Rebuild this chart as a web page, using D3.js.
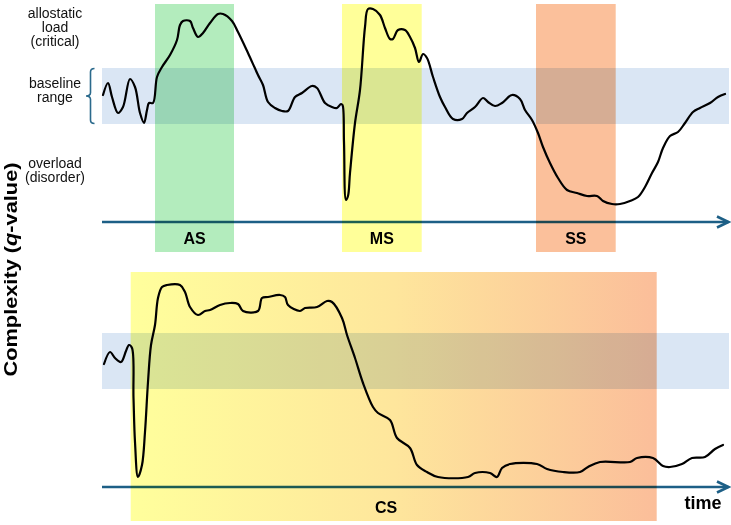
<!DOCTYPE html>
<html><head><meta charset="utf-8">
<script src="https://cdn.jsdelivr.net/npm/d3@7"></script>
<style>
html,body{margin:0;padding:0;background:#fff;}
svg{display:block;font-family:"Liberation Sans",Arial,sans-serif;}
</style></head>
<body>
<svg id="chart" width="731" height="525"></svg>
<script>
// ---- data ----
const stageNames = ["AS", "MS", "SS"];
const stageStart = [55, 242, 436];
const stageEnd = [134, 321.7, 515.7];
const stageColors = ["#b3ecbd", "#ffff99", "#fbc09b"];
const chronicName = "CS";
const chronicStart = 30.7, chronicEnd = 556.7;
const baselineRange = [98, 154];
const leftLabelsTop = [["allostatic", "load", "(critical)"], ["baseline", "range"], ["overload", "(disorder)"]];
const topCurve = [[3,127],[8,139],[12,125],[18,109],[23,115],[30,143],[35,135],[40,109],[44,99],[47,112],[49,119],[53,119],[57,145],[62,155],[70,167],[77,182],[80,197],[83,201],[90,201],[93,194],[98,185],[103,189],[110,199],[118,208],[123,208],[132,201],[138,190],[148,169],[158,147],[163,137],[168,120],[175,114],[182,111],[188,111],[195,125],[202,129],[212,136],[217,134],[225,119],[232,115],[237,114],[241,118],[242.5,117],[244,80],[246,22],[248,26],[250,49],[255,99],[260,132],[265,195],[268,213],[273,213],[280,207],[285,194],[290,183],[293,183],[298,192],[305,192],[310,185],[315,174],[319,160],[323,168],[327,164],[333,145],[340,125],[345,115],[353,103],[362,103],[367,109],[375,115],[383,124],[388,120],[395,116],[402,119],[412,127],[420,123],[425,112],[432,102],[438,89],[443,75],[450,59],[458,44],[467,32],[477,29],[487,26],[497,26],[503,21],[512,18],[520,18],[530,21],[538,25],[545,35],[552,49],[558,60],[563,74],[570,86],[578,90],[585,99],[593,110],[600,114],[610,119],[618,125],[625,128]];
const bottomCurve = [[4,123],[10,135],[15,129],[21,125],[26,136],[29,142],[32,139],[33.5,89],[35,45],[38,10],[42,22],[45,55],[48,105],[51,142],[55,162],[58,189],[62,200],[67,202],[80,202],[85,195],[90,180],[98,172],[105,176],[110,177],[120,182],[130,184],[138,183],[143,176],[158,176],[162,189],[168,190],[180,192],[185,190],[188,182],[200,176],[205,179],[217,180],[227,186],[232,185],[242,169],[247,152],[255,129],[263,104],[273,80],[278,74],[290,67],[297,49],[310,39],[317,22],[327,15],[338,10],[368,10],[375,14],[390,14],[397,10],[402,19],[410,23],[437,23],[447,18],[463,15],[480,15],[488,20],[500,25],[530,25],[537,29],[553,29],[563,21],[570,20],[582,23],[592,29],[605,30],[615,38],[623,42]];

// ---- layout ----
const svg = d3.select("#chart");
const x = d3.scaleLinear().domain([0, 630]).range([100, 730]);
const axisColor = "#1d5f86";
const line = d3.line().x(d => x(d[0])).curve(d3.curveCatmullRom.alpha(0.5));

const defs = svg.append("defs");
const grad = defs.append("linearGradient").attr("id", "csgrad").attr("x1", "0").attr("x2", "1").attr("y1", "0").attr("y2", "0");
grad.append("stop").attr("offset", "0").attr("stop-color", "#ffff9c");
grad.append("stop").attr("offset", "0.5").attr("stop-color", "#fee69c");
grad.append("stop").attr("offset", "1").attr("stop-color", "#fbbe9a");

function panel(axisY, curve, rectTopQ, rectBotQ, stages) {
  const y = d3.scaleLinear().domain([0, 218]).range([axisY, axisY - 218]);
  const g = svg.append("g");
  g.append("rect").attr("x", x(2)).attr("width", x(629) - x(2))
    .attr("y", y(baselineRange[1])).attr("height", y(baselineRange[0]) - y(baselineRange[1]))
    .attr("fill", "#dae6f4");
  g.append("line").attr("x1", x(2)).attr("x2", x(628.5)).attr("y1", y(0)).attr("y2", y(0))
    .attr("stroke", axisColor).attr("stroke-width", 2.6);
  g.append("path").attr("d", `M${x(617)},${y(0) - 5.5} L${x(628.5)},${y(0)} L${x(617)},${y(0) + 5.5}`)
    .attr("fill", "none").attr("stroke", axisColor).attr("stroke-width", 2.6).attr("stroke-linejoin", "miter");
  stages.forEach(s => {
    g.append("rect").attr("x", x(s.start)).attr("width", x(s.end) - x(s.start))
      .attr("y", y(rectTopQ)).attr("height", y(rectBotQ) - y(rectTopQ))
      .attr("fill", s.fill).style("mix-blend-mode", "multiply");
  });
  g.append("path").datum(curve).attr("d", line.y(d => y(d[1])))
    .attr("fill", "none").attr("stroke", "#000").attr("stroke-width", 2.2)
    .attr("stroke-linejoin", "round").attr("stroke-linecap", "round");
  return {g, y};
}

const topStages = stageNames.map((n, i) => ({name: n, start: stageStart[i], end: stageEnd[i], fill: stageColors[i]}));
const topPanel = panel(222, topCurve, 218, -30, topStages);
topStages.forEach(s => {
  topPanel.g.append("text").attr("x", x((s.start + s.end) / 2)).attr("y", 244)
    .attr("text-anchor", "middle").attr("font-size", 16).attr("font-weight", "bold").text(s.name);
});

const botPanel = panel(487, bottomCurve, 215, -34, [{name: chronicName, start: chronicStart, end: chronicEnd, fill: "url(#csgrad)"}]);
botPanel.g.append("text").attr("x", x(286)).attr("y", 513).attr("text-anchor", "middle")
  .attr("font-size", 16).attr("font-weight", "bold").text(chronicName);
botPanel.g.append("text").attr("x", 703).attr("y", 509).attr("text-anchor", "middle")
  .attr("font-size", 18).attr("font-weight", "bold").text("time");

const lbl = svg.append("g").attr("font-size", 14).attr("text-anchor", "middle").attr("fill", "#111");
const lblBase = [[18.3, 32, 46], [88.3, 102], [167.7, 181.7]];
leftLabelsTop.forEach((lines, i) => {
  lines.forEach((t, j) => lbl.append("text").attr("x", 55).attr("y", lblBase[i][j]).text(t));
});
svg.append("path")
  .attr("d", "M94.5,68.5 Q90.5,68.5 90.5,72 L90.5,92.5 Q90.5,96 86,96 Q90.5,96 90.5,99.5 L90.5,120 Q90.5,123.5 94.5,123.5")
  .attr("fill", "none").attr("stroke", "#2b6a8c").attr("stroke-width", 1.6);

const yt = svg.append("text").attr("transform", "translate(16.5,269.5) rotate(-90)")
  .attr("text-anchor", "middle").attr("font-size", 18.5).attr("font-weight", "bold")
  .attr("textLength", 214).attr("lengthAdjust", "spacingAndGlyphs");
yt.append("tspan").text("Complexity (");
yt.append("tspan").attr("font-style", "italic").text("q");
yt.append("tspan").text("-value)");
</script>
</body></html>
